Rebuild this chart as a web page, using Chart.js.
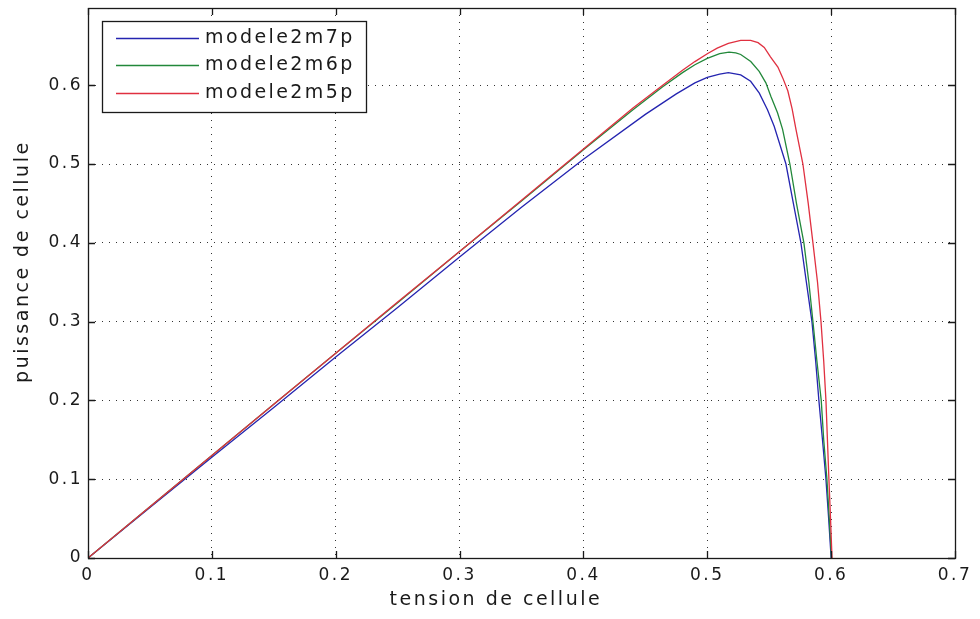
<!DOCTYPE html>
<html>
<head>
<meta charset="utf-8">
<script src="https://cdn.jsdelivr.net/npm/chart.js@4.4.0/dist/chart.umd.min.js"></script>
<style>
  html, body { margin: 0; padding: 0; background: #fff; }
  #wrap { width: 980px; height: 619px; }
</style>
</head>
<body>
<div id="wrap"><canvas id="pv"></canvas></div>
<script>
const seriesNames = ['modele2m7p', 'modele2m6p', 'modele2m5p'];
const seriesColors = ['#2424b0', '#22883a', '#e03040'];

// tension (V) / puissance (W)
const tension7p = [0, 0.05, 0.1, 0.15, 0.2, 0.25, 0.3, 0.35, 0.4, 0.45, 0.475, 0.49, 0.5, 0.51, 0.517, 0.527, 0.535, 0.542, 0.5486, 0.554, 0.5635, 0.5695, 0.5756, 0.58, 0.5845, 0.5875, 0.5901, 0.593, 0.5958, 0.598, 0.6];
const puissance7p = [0, 0.064, 0.128, 0.191, 0.255, 0.318, 0.382, 0.445, 0.506, 0.563, 0.589, 0.603, 0.610, 0.614, 0.616, 0.613, 0.605, 0.590, 0.569, 0.548, 0.5, 0.45, 0.4, 0.35, 0.3, 0.25, 0.2, 0.15, 0.1, 0.05, 0];

const tension6p = [0, 0.05, 0.1, 0.15, 0.2, 0.25, 0.3, 0.35, 0.4, 0.44, 0.464, 0.48, 0.49, 0.5, 0.51, 0.5176, 0.523, 0.527, 0.5351, 0.5419, 0.5473, 0.5513, 0.5567, 0.5608, 0.5667, 0.572, 0.578, 0.582, 0.5853, 0.5885, 0.592, 0.594, 0.5966, 0.5985, 0.6003];
const puissance6p = [0, 0.065, 0.13, 0.195, 0.26, 0.324, 0.389, 0.453, 0.518, 0.569, 0.598, 0.616, 0.626, 0.634, 0.640, 0.642, 0.641, 0.639, 0.630, 0.6175, 0.603, 0.586, 0.565, 0.544, 0.5, 0.45, 0.4, 0.35, 0.3, 0.25, 0.2, 0.15, 0.1, 0.05, 0];

const tension5p = [0, 0.05, 0.1, 0.15, 0.2, 0.25, 0.3, 0.35, 0.4, 0.44, 0.464, 0.48, 0.49, 0.5, 0.508, 0.517, 0.527, 0.535, 0.541, 0.546, 0.551, 0.557, 0.561, 0.565, 0.5685, 0.5716, 0.5772, 0.5815, 0.5853, 0.589, 0.5918, 0.594, 0.5958, 0.597, 0.5982, 0.5995, 0.6007];
const puissance5p = [0, 0.065, 0.13, 0.195, 0.26, 0.325, 0.389, 0.454, 0.519, 0.571, 0.6, 0.619, 0.630, 0.640, 0.647, 0.653, 0.657, 0.657, 0.654, 0.648, 0.636, 0.623, 0.609, 0.593, 0.570, 0.544, 0.5, 0.45, 0.4, 0.35, 0.3, 0.25, 0.2, 0.15, 0.1, 0.05, 0];

const xTickValues = [0, 0.1, 0.2, 0.3, 0.4, 0.5, 0.6, 0.7];
const yTickValues = [0, 0.1, 0.2, 0.3, 0.4, 0.5, 0.6];

const toPoints = (xs, ys) => xs.map((v, i) => ({ x: v, y: ys[i] }));
const allX = [tension7p, tension6p, tension5p];
const allY = [puissance7p, puissance6p, puissance5p];

const ink = '#1a1a1a';
const tickFont = { family: 'DejaVu Sans', size: 17 };
const titleFont = { family: 'DejaVu Sans', size: 19 };
const fmt = v => String(+v.toFixed(1));

// matlab-ish text spacing
const spacing = {
  id: 'spacing',
  beforeUpdate(chart) { chart.ctx.letterSpacing = '2.5px'; },
  beforeDraw(chart) { chart.ctx.letterSpacing = '2.5px'; }
};

// full box + inward ticks on all four sides
const frame = {
  id: 'frame',
  afterDatasetsDraw(chart) {
    const { ctx, chartArea: a, scales: { x, y } } = chart;
    ctx.save();
    ctx.strokeStyle = ink;
    ctx.lineWidth = 1.3;
    ctx.beginPath();
    x.ticks.forEach(t => {
      const px = Math.round(x.getPixelForValue(t.value)) + 0.5;
      ctx.moveTo(px, a.bottom); ctx.lineTo(px, a.bottom - 7);
      ctx.moveTo(px, a.top); ctx.lineTo(px, a.top + 7);
    });
    y.ticks.forEach(t => {
      const py = Math.round(y.getPixelForValue(t.value)) + 0.5;
      ctx.moveTo(a.left, py); ctx.lineTo(a.left + 7, py);
      ctx.moveTo(a.right, py); ctx.lineTo(a.right - 7, py);
    });
    ctx.stroke();
    ctx.strokeRect(Math.round(a.left) + 0.5, Math.round(a.top) + 0.5,
      Math.round(a.right - a.left), Math.round(a.bottom - a.top));
    ctx.restore();
  }
};

// boxed legend inside the plot, top left
const boxLegend = {
  id: 'boxLegend',
  afterDraw(chart) {
    const { ctx, chartArea: a } = chart;
    const bx = a.left + 14, by = a.top + 13, bw = 264, bh = 91;
    ctx.save();
    ctx.fillStyle = '#fff';
    ctx.fillRect(bx, by, bw, bh);
    ctx.strokeStyle = ink;
    ctx.lineWidth = 1.3;
    ctx.strokeRect(Math.round(bx) + 0.5, Math.round(by) + 0.5, bw, bh);
    ctx.font = '19px "DejaVu Sans"';
    ctx.letterSpacing = '2.4px';
    ctx.textBaseline = 'middle';
    chart.data.datasets.forEach((ds, i) => {
      const ry = Math.round(by + 16.5 + i * 27.5) + 0.5;
      ctx.strokeStyle = ds.borderColor;
      ctx.lineWidth = 1.3;
      ctx.beginPath();
      ctx.moveTo(bx + 14, ry); ctx.lineTo(bx + 97, ry);
      ctx.stroke();
      ctx.fillStyle = ink;
      ctx.fillText(ds.label, bx + 103, ry);
    });
    ctx.restore();
  }
};

new Chart(document.getElementById('pv'), {
  type: 'scatter',
  data: {
    datasets: seriesNames.map((name, i) => ({
      label: name,
      data: toPoints(allX[i], allY[i]),
      showLine: true,
      borderColor: seriesColors[i],
      backgroundColor: seriesColors[i],
      borderWidth: 1.3,
      pointRadius: 0,
      tension: 0,
      order: 3 - i
    }))
  },
  options: {
    responsive: true,
    maintainAspectRatio: false,
    animation: false,
    layout: { padding: { top: 8, right: 25, bottom: 0, left: 0 } },
    plugins: { legend: { display: false }, tooltip: { enabled: false } },
    scales: {
      x: {
        type: 'linear',
        min: 0,
        max: 0.7,
        afterBuildTicks: s => { s.ticks = xTickValues.map(v => ({ value: v })); },
        afterFit: s => { s.height = 61; s.paddingLeft = 0; s.paddingRight = 0; },
        grid: { color: '#333', lineWidth: 1, drawTicks: false },
        border: { display: false, dash: [1, 6] },
        ticks: { padding: 7, color: ink, font: tickFont, maxRotation: 0, autoSkip: false, callback: fmt },
        title: { display: true, text: 'tension de cellule      ', color: ink, font: titleFont, padding: { top: 0, bottom: 8 } }
      },
      y: {
        type: 'linear',
        min: 0,
        max: 0.698,
        afterBuildTicks: s => { s.ticks = yTickValues.map(v => ({ value: v })); },
        afterFit: s => { s.width = 88; s.paddingTop = 0; s.paddingBottom = 0; },
        grid: { color: '#333', lineWidth: 1, drawTicks: false },
        border: { display: false, dash: [1, 6] },
        ticks: { padding: 5, color: ink, font: tickFont, autoSkip: false, callback: fmt },
        title: { display: true, text: '     puissance de cellule', color: ink, font: titleFont, padding: { top: 12, bottom: 0 } }
      }
    }
  },
  plugins: [spacing, frame, boxLegend]
});
</script>
</body>
</html>
